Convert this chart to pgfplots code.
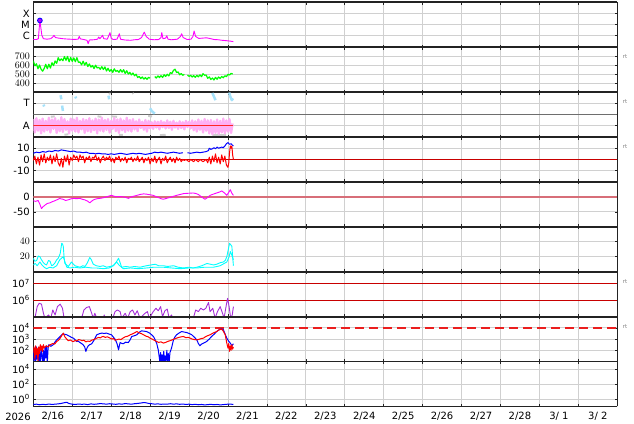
\documentclass[border=0pt]{standalone}
\usepackage{fontspec}
\setmainfont{DejaVu Sans}
\usepackage{pgfplots}
\pgfplotsset{compat=1.18}
\definecolor{magc}{RGB}{255,0,255}
\definecolor{greenc}{RGB}{0,255,0}
\definecolor{pinkc}{RGB}{255,175,245}
\definecolor{lbluec}{RGB}{165,225,250}
\definecolor{lgrayc}{RGB}{205,205,205}
\definecolor{redc}{RGB}{255,0,0}
\definecolor{bluec}{RGB}{0,0,255}
\definecolor{darkredc}{RGB}{200,0,0}
\definecolor{dstc}{RGB}{215,110,120}
\definecolor{cyanc}{RGB}{0,255,255}
\definecolor{purplec}{RGB}{165,45,215}
\definecolor{dashredc}{RGB}{235,30,30}
\definecolor{gridc}{RGB}{208,208,208}
\definecolor{axc}{RGB}{35,35,35}
\definecolor{divc}{RGB}{110,110,110}
\newcommand{\tl}{\fontsize{10bp}{12bp}\selectfont}
\pgfplotsset{panel/.style={
  anchor=north west, width=584bp, height=44.9bp, scale only axis,
  xmin=0, xmax=15, xtick={0,1,...,15}, xticklabels={},
  xmajorgrids, ymajorgrids, grid style={draw=gridc, line width=0.7bp},
  separate axis lines,
  every outer x axis line/.append style={line width=1.8bp, draw=axc},
  every outer y axis line/.append style={line width=0.9bp, draw=axc},
  tick style={draw=axc, line width=0.6bp},
  major tick length=2.5bp, tick align=inside,
  yticklabel style={font=\tl, inner sep=0pt, xshift=-3.3bp},
  xticklabel style={font=\tl},
  unbounded coords=jump,
  every axis plot/.append style={line join=round},
}}
\begin{document}
\begin{tikzpicture}
\useasboundingbox (0,0) rectangle (634bp,-424bp);
% Panel 1: X-ray
\begin{axis}[panel, at={(33.3bp,-2.3bp)}, ymin=-7.08, ymax=-2.98, ytick={-6,-5,-4}, yticklabels={C,M,X}]
\addplot[magc, line width=0.9bp] coordinates {(0,-6.38)(0.08,-6.38)(0.13,-6.30)(0.16,-5.0)(0.17,-4.64)(0.19,-5.2)(0.22,-6.0)(0.26,-6.30)(0.35,-6.35)(0.45,-6.30)(0.50,-6.15)(0.53,-6.0)(0.57,-6.2)(0.65,-6.25)(0.75,-6.30)(0.85,-6.33)(0.95,-6.35)(1.05,-6.37)(1.15,-6.35)(1.18,-6.1)(1.21,-6.32)(1.30,-6.38)(1.38,-6.45)(1.41,-6.76)(1.44,-6.42)(1.55,-6.40)(1.65,-6.35)(1.68,-6.15)(1.71,-6.3)(1.78,-6.0)(1.81,-6.3)(1.90,-6.35)(1.97,-5.75)(2.00,-6.25)(2.05,-6.38)(2.15,-6.35)(2.21,-5.85)(2.24,-6.35)(2.35,-6.42)(2.50,-6.45)(2.60,-6.40)(2.70,-6.38)(2.78,-6.20)(2.85,-5.70)(2.90,-6.1)(2.98,-6.35)(3.10,-6.40)(3.22,-6.38)(3.28,-6.2)(3.30,-5.75)(3.33,-6.3)(3.40,-6.25)(3.43,-6.03)(3.46,-6.35)(3.55,-6.40)(3.70,-6.35)(3.78,-6.1)(3.81,-5.85)(3.85,-6.2)(3.95,-6.38)(4.05,-6.35)(4.10,-6.1)(4.13,-5.60)(4.17,-6.1)(4.25,-6.28)(4.35,-6.25)(4.45,-6.22)(4.55,-6.30)(4.65,-6.38)(4.75,-6.40)(4.85,-6.45)(4.95,-6.48)(5.05,-6.52)(5.14,-6.57)};
\addplot[only marks, mark=*, mark size=2.4bp, mark options={draw=bluec, fill=magc!70!bluec, line width=0.8bp}] coordinates {(0.17,-4.64)};
\end{axis}
% Panel 2: speed
\begin{axis}[panel, at={(33.3bp,-47.2bp)}, ymin=300, ymax=800, ytick={400,500,600,700}]
\addplot[greenc, line width=1.2bp] coordinates {(0,650)(0.04,592)(0.08,615)(0.12,560)(0.16,601)(0.2,555)(0.24,533)(0.28,563)(0.32,610)(0.36,560)(0.4,610)(0.44,567)(0.48,627)(0.52,595)(0.56,647)(0.6,620)(0.64,683)(0.68,650)(0.72,670)(0.76,650)(0.8,696)(0.84,654)(0.88,697)(0.92,637)(0.96,686)(1,642)(1.04,681)(1.08,638)(1.12,683)(1.16,632)(1.2,635)(1.24,603)(1.28,645)(1.32,600)(1.36,631)(1.4,585)(1.44,614)(1.48,578)(1.52,596)(1.56,562)(1.6,600)(1.64,569)(1.68,576)(1.72,554)(1.76,583)(1.8,552)(1.84,580)(1.88,535)(1.92,565)(1.96,531)(2,552)(2.04,519)(2.08,559)(2.12,531)(2.16,541)(2.2,520)(2.24,551)(2.28,522)(2.32,550)(2.36,507)(2.4,538)(2.44,501)(2.48,520)(2.52,491)(2.56,512)(2.6,482)(2.64,499)(2.68,463)(2.72,474)(2.76,451)(2.8,468)(2.84,445)(2.88,462)(2.92,442)(2.96,464)(3,455)(3.06,nan)(3.12,473)(3.16,456)(3.2,480)(3.24,462)(3.28,483)(3.32,463)(3.36,493)(3.4,475)(3.44,498)(3.48,480)(3.52,517)(3.56,507)(3.6,542)(3.64,555)(3.68,518)(3.72,525)(3.76,492)(3.8,507)(3.84,487)(3.88,498)(3.92,nan)(3.96,490)(4,475)(4.04,487)(4.08,468)(4.12,484)(4.16,465)(4.2,486)(4.24,470)(4.28,492)(4.32,472)(4.36,505)(4.4,488)(4.44,490)(4.48,453)(4.52,470)(4.56,440)(4.6,457)(4.64,435)(4.68,464)(4.72,443)(4.76,468)(4.8,452)(4.84,474)(4.88,460)(4.92,482)(4.96,472)(5,498)(5.04,491)(5.08,508)(5.12,501)};
\end{axis}
% Panel 3: T / A
\begin{axis}[panel, at={(33.3bp,-92.1bp)}, ymin=0, ymax=1, ytick={0.25,0.75}, yticklabels={A,T}]
\addplot[divc, line width=0.8bp] coordinates {(0,0.5)(15,0.5)};
\addplot[lgrayc, line width=2bp] coordinates {(0.45,0.45)(0.55,0.46)(0.6,nan)(1.65,0.46)(1.75,0.45)(1.8,nan)(2.0,0.46)(2.15,0.45)(2.2,nan)(2.95,0.47)(3.05,0.46)(3.1,nan)(0.8,0.05)(0.9,0.06)(0.95,nan)(2.2,0.05)(2.3,0.05)(2.35,nan)(3.25,0.04)(3.4,0.05)(3.45,nan)(4.6,0.05)(4.95,0.04)(5.0,nan)(1.95,0.98)(1.97,0.95)(2.0,nan)(2.55,0.98)(2.57,0.96)};
\addplot[pinkc, line width=2.3bp] coordinates {(0.00,0.40)(0.04,0.10)(0.08,0.42)(0.12,0.14)(0.16,0.38)(0.20,0.08)(0.24,0.41)(0.28,0.12)(0.32,0.36)(0.36,0.15)(0.40,0.43)(0.44,0.10)(0.48,0.39)(0.52,0.18)(0.56,0.42)(0.60,0.09)(0.64,0.37)(0.68,0.13)(0.72,0.44)(0.76,0.11)(0.80,0.40)(0.84,0.16)(0.88,0.35)(0.92,0.08)(0.96,0.41)(1.00,0.14)(1.04,0.39)(1.08,0.12)(1.12,0.43)(1.16,0.10)(1.20,0.36)(1.24,0.17)(1.28,0.40)(1.32,0.09)(1.36,0.38)(1.40,0.13)(1.44,0.42)(1.48,0.11)(1.52,0.37)(1.56,0.15)(1.60,0.41)(1.64,0.08)(1.68,0.39)(1.72,0.14)(1.76,0.43)(1.80,0.12)(1.84,0.38)(1.88,0.16)(1.92,0.40)(1.96,0.10)(2.00,0.36)(2.04,0.18)(2.08,0.42)(2.12,0.13)(2.16,0.39)(2.20,0.09)(2.24,0.41)(2.28,0.15)(2.32,0.37)(2.36,0.11)(2.40,0.43)(2.44,0.14)(2.48,0.38)(2.52,0.12)(2.56,0.40)(2.60,0.17)(2.64,0.35)(2.68,0.13)(2.72,0.39)(2.76,0.20)(2.80,0.34)(2.84,0.16)(2.88,0.38)(2.92,0.12)(2.96,0.36)(3.00,0.19)(3.04,0.33)(3.08,0.18)(3.12,0.35)(3.16,0.21)(3.20,0.34)(3.24,0.17)(3.28,0.36)(3.32,0.22)(3.36,0.33)(3.40,0.19)(3.44,0.37)(3.48,0.20)(3.52,0.34)(3.56,0.16)(3.60,0.36)(3.64,0.21)(3.68,0.32)(3.72,0.18)(3.76,0.35)(3.80,0.20)(3.84,0.33)(3.88,0.17)(3.92,0.36)(3.96,0.22)(4.00,0.34)(4.04,0.19)(4.08,0.37)(4.12,0.15)(4.16,0.35)(4.20,0.12)(4.24,0.39)(4.28,0.16)(4.32,0.36)(4.36,0.10)(4.40,0.40)(4.44,0.14)(4.48,0.37)(4.52,0.08)(4.56,0.38)(4.60,0.06)(4.64,0.35)(4.68,0.09)(4.72,0.39)(4.76,0.07)(4.80,0.36)(4.84,0.10)(4.88,0.41)(4.92,0.08)(4.96,0.37)(5.00,0.12)(5.04,0.40)(5.08,0.09)(5.12,0.30)};
\addplot[lbluec, line width=2.5bp] coordinates {(0.26,0.72)(0.28,0.68)(0.30,nan)(0.70,0.93)(0.72,0.84)(0.73,nan)(0.74,0.70)(0.76,0.58)(0.78,nan)(1.08,0.90)(1.10,0.86)(1.12,nan)(1.93,0.92)(1.95,0.84)(1.97,nan)(3.00,0.64)(3.04,0.58)(3.08,0.55)(3.12,0.52)(3.14,nan)(4.60,0.98)(4.64,0.90)(4.68,0.82)(4.70,nan)(5.03,0.99)(5.06,0.90)(5.10,0.82)(5.13,0.86)};
\addplot[red!85!white, line width=0.8bp] coordinates {(0,0.25)(5.14,0.25)};
\end{axis}
% Panel 4: IMF
\begin{axis}[panel, at={(33.3bp,-137.0bp)}, ymin=-20, ymax=20, ytick={-10,0,10}, yticklabels={-10,0,10}]
\addplot[darkredc, line width=0.9bp] coordinates {(0,0)(15,0)};
\addplot[bluec, line width=1bp] coordinates {(0.00,5.5)(0.08,6.5)(0.16,6)(0.24,7)(0.32,6.5)(0.40,7.5)(0.48,7)(0.56,8)(0.64,7.5)(0.72,8.5)(0.80,8)(0.88,7.5)(0.96,7)(1.04,7.5)(1.12,6.5)(1.20,6.5)(1.28,6)(1.36,6.5)(1.44,5.5)(1.52,5.5)(1.60,5)(1.68,5.5)(1.76,5)(1.84,5)(1.92,4.5)(2.00,5)(2.08,4.5)(2.16,5)(2.24,5.5)(2.32,5)(2.40,4.5)(2.48,5)(2.56,5.5)(2.64,5)(2.72,5.5)(2.80,5)(2.88,4.5)(2.96,5)(3.04,5.5)(3.12,6.5)(3.20,6)(3.28,6.5)(3.36,6)(3.44,5.5)(3.52,6)(3.60,6.5)(3.68,6)(3.76,5.5)(3.84,6)(3.90,nan)(3.96,6)(4.04,5.5)(4.12,6)(4.20,6.5)(4.28,6)(4.36,6.5)(4.44,7)(4.50,8)(4.52,10)(4.56,9)(4.60,9.5)(4.64,10.5)(4.68,9.5)(4.72,11)(4.76,10)(4.80,10.5)(4.84,11)(4.88,10.5)(4.92,12)(4.96,14)(5.00,15)(5.04,13.5)(5.08,14)(5.12,12.5)(5.14,12)};
\addplot[redc, line width=1bp] coordinates {(0.00,-1)(0.04,3)(0.08,-4)(0.12,2)(0.16,-5)(0.20,4)(0.24,-2)(0.28,5)(0.32,-3)(0.36,2)(0.40,-1)(0.44,4)(0.48,-4)(0.52,3)(0.56,-2)(0.60,5)(0.64,-3)(0.68,-6)(0.72,1)(0.76,-7)(0.80,3)(0.84,-2)(0.88,4)(0.92,-5)(0.96,2)(1.00,-1)(1.04,4)(1.08,1)(1.12,3)(1.16,-2)(1.20,4)(1.24,1)(1.28,3)(1.32,-3)(1.36,2)(1.40,0)(1.44,3)(1.48,-2)(1.52,2)(1.56,1)(1.60,4)(1.64,-1)(1.68,2)(1.72,-3)(1.76,1)(1.80,3)(1.84,-1)(1.88,2)(1.92,0)(1.96,3)(2.00,-2)(2.04,1)(2.08,-3)(2.12,2)(2.16,0)(2.20,3)(2.24,-2)(2.28,1)(2.32,-1)(2.36,2)(2.40,-3)(2.44,1)(2.48,0)(2.52,2)(2.56,-2)(2.60,1)(2.64,-1)(2.68,3)(2.72,-2)(2.76,0)(2.80,2)(2.84,-3)(2.88,1)(2.92,-1)(2.96,2)(3.00,-4)(3.04,1)(3.08,-2)(3.12,3)(3.16,-3)(3.20,0)(3.24,2)(3.28,-4)(3.32,1)(3.36,-1)(3.40,3)(3.44,-3)(3.48,0)(3.52,2)(3.56,-2)(3.60,1)(3.64,-3)(3.68,2)(3.72,-1)(3.76,1)(3.80,-2)(3.84,0)(3.88,-1)(3.92,0)(3.96,-1)(4.00,-2)(4.04,0)(4.08,-1)(4.12,-2)(4.16,0)(4.20,-1)(4.24,-2)(4.28,0)(4.32,-1)(4.36,-2)(4.40,-1)(4.44,0)(4.48,-3)(4.52,2)(4.56,-4)(4.60,3)(4.64,-2)(4.68,5)(4.72,-3)(4.76,2)(4.80,-4)(4.84,4)(4.88,-2)(4.92,3)(4.96,-5)(5.00,-7)(5.02,-3)(5.04,6)(5.06,12)(5.08,10)(5.10,12)(5.12,4)(5.14,0)};
\end{axis}
% Panel 5: Dst
\begin{axis}[panel, at={(33.3bp,-181.9bp)}, ymin=-100, ymax=50, ytick={-50,0}, yticklabels={-50,0}]
\addplot[dstc, line width=2.2bp] coordinates {(0,0)(15,0)};
\addplot[magc, line width=0.9bp] coordinates {(0,-13)(0.06,-15)(0.124,-12)(0.17,-25)(0.21,-39)(0.25,-33)(0.296,-28)(0.36,-22)(0.424,-20)(0.49,-16)(0.553,-13)(0.62,-9)(0.681,-5)(0.72,-7)(0.767,-8)(0.83,-12)(0.895,-10)(0.96,-7)(1.024,-5)(1.11,-6)(1.195,-5)(1.26,-8)(1.324,-10)(1.39,-14)(1.452,-20)(1.52,-12)(1.58,-8)(1.65,-6)(1.71,-5)(1.8,-3)(1.88,0)(1.95,3)(2.01,5)(2.08,2)(2.14,0)(2.22,1)(2.31,0)(2.38,-2)(2.44,-5)(2.5,-1)(2.57,2)(2.66,5)(2.74,8)(2.83,10)(2.91,9)(3.0,7)(3.08,5)(3.15,1)(3.21,-2)(3.28,-6)(3.34,-8)(3.42,-5)(3.51,-2)(3.6,2)(3.68,5)(3.77,8)(3.86,11)(3.98,12)(4.11,13)(4.18,11)(4.24,8)(4.32,0)(4.41,-8)(4.48,-2)(4.54,5)(4.62,9)(4.71,13)(4.78,16)(4.84,20)(4.9,14)(4.97,5)(5.02,15)(5.06,24)(5.1,12)(5.14,5)};
\end{axis}
% Panel 6: density
\begin{axis}[panel, at={(33.3bp,-226.8bp)}, ymin=0, ymax=60, ytick={20,40}]
\addplot[cyanc, line width=0.9bp] coordinates {(0,9)(0.05,11)(0.1,8)(0.17,13)(0.22,9)(0.28,6)(0.34,4)(0.42,6)(0.51,5)(0.6,8)(0.68,16)(0.77,20)(0.82,12)(0.86,6)(0.95,5)(1.05,6)(1.2,5)(1.35,6)(1.5,5)(1.62,5)(1.8,4)(1.95,5)(2.05,8)(2.14,13)(2.2,9)(2.31,4)(2.5,5)(2.7,4)(2.91,5)(3.1,6)(3.34,6)(3.55,5)(3.77,4)(4.0,5)(4.2,5)(4.4,6)(4.63,6)(4.8,8)(4.97,13)(5.03,20)(5.06,27)(5.1,22)(5.14,16)};
\addplot[cyanc, line width=0.9bp] coordinates {(0,18)(0.04,14)(0.086,15)(0.13,21)(0.17,20)(0.21,16)(0.26,12)(0.30,10)(0.34,9)(0.39,15)(0.43,14)(0.47,8)(0.51,9)(0.56,12)(0.60,16)(0.64,18)(0.69,24)(0.73,38)(0.75,37)(0.77,34)(0.79,20)(0.81,11)(0.86,9)(0.90,7)(0.94,10)(0.98,13)(1.03,10)(1.07,8)(1.13,7)(1.20,6)(1.27,8)(1.33,7)(1.39,12)(1.45,19)(1.49,16)(1.54,10)(1.62,8)(1.71,7)(1.80,8)(1.88,6)(1.97,7)(2.06,8)(2.12,12)(2.19,18)(2.23,12)(2.27,6)(2.38,7)(2.49,6)(2.6,7)(2.74,6)(2.82,7)(2.91,8)(3.02,9)(3.13,10)(3.22,8)(3.34,8)(3.45,7)(3.6,8)(3.72,6)(3.86,5)(4.0,6)(4.1,5)(4.2,6)(4.33,8)(4.46,11)(4.55,10)(4.63,9)(4.71,10)(4.8,12)(4.88,13)(4.93,15)(4.97,20)(5.01,30)(5.04,38)(5.07,36)(5.10,34)(5.12,20)(5.14,8)};
\end{axis}
% Panel 7: electrons (log)
\begin{axis}[panel, at={(33.3bp,-271.7bp)}, ymin=5, ymax=7.7, ytick={6,7}, yticklabels={10\textsuperscript{6},10\textsuperscript{7}}]
\addplot[darkredc, line width=0.9bp] coordinates {(0,6)(15,6)};
\addplot[darkredc, line width=0.9bp] coordinates {(0,7)(15,7)};
\addplot[purplec, line width=0.9bp] coordinates {(0.04,4.9)(0.10,5.6)(0.15,5.8)(0.21,5.75)(0.26,5.2)(0.30,4.9)(0.39,5.1)(0.45,4.9)(0.50,5.4)(0.56,5.1)(0.62,5.6)(0.69,5.75)(0.75,5.5)(0.79,4.9)(1.24,4.9)(1.30,5.4)(1.37,5.55)(1.44,5.6)(1.50,5.2)(1.54,4.9)(1.58,5.2)(1.63,4.9)(1.80,4.9)(1.82,5.1)(1.85,4.9)(2.04,4.9)(2.10,5.3)(2.16,5.4)(2.23,5.3)(2.27,4.9)(2.36,5.2)(2.42,4.9)(2.49,5.3)(2.55,5.4)(2.61,5.1)(2.67,5.35)(2.74,4.9)(2.87,5.2)(2.93,5.3)(2.98,4.9)(3.08,5.3)(3.15,5.5)(3.21,5.35)(3.27,5.6)(3.32,5.0)(3.38,5.35)(3.44,5.45)(3.49,4.9)(3.55,5.1)(3.58,4.9)(4.11,4.9)(4.17,5.4)(4.24,5.3)(4.30,5.5)(4.37,5.4)(4.43,5.5)(4.50,5.85)(4.54,5.3)(4.61,5.5)(4.67,4.9)(4.73,5.3)(4.80,5.6)(4.86,5.2)(4.90,4.9)(4.95,5.6)(4.99,6.1)(5.03,5.6)(5.07,4.9)(5.11,5.1)(5.14,5.6)};
\end{axis}
% Panel 8: protons (log)
\begin{axis}[panel, at={(33.3bp,-316.6bp)}, ymin=1, ymax=5, ytick={2,3,4}, yticklabels={10\textsuperscript{2},10\textsuperscript{3},10\textsuperscript{4}}]
\addplot[draw=dashredc, line width=1.6bp, dash pattern=on 9bp off 5bp] coordinates {(0,4)(15,4)};
\addplot[bluec, line width=1bp] coordinates {(0.00,2.0)(0.02,1.0)(0.04,2.2)(0.06,0.9)(0.08,2.3)(0.10,1.2)(0.12,2.1)(0.14,0.9)(0.16,1.8)(0.18,0.9)(0.20,2.2)(0.22,1.5)(0.24,0.9)(0.26,2.0)(0.28,1.0)(0.30,2.3)(0.32,1.3)(0.34,2.4)(0.36,0.9)(0.38,2.2)(0.40,2.5)(0.45,2.35)(0.51,2.49)(0.55,2.7)(0.60,2.93)(0.64,3.05)(0.69,3.23)(0.73,3.38)(0.77,3.47)(0.81,3.42)(0.86,3.38)(0.90,3.3)(0.94,3.23)(0.98,3.15)(1.03,3.08)(1.07,2.95)(1.11,2.78)(1.15,2.82)(1.20,2.69)(1.24,2.6)(1.28,2.49)(1.32,2.3)(1.35,1.9)(1.38,2.2)(1.41,2.4)(1.45,2.5)(1.50,2.58)(1.56,2.9)(1.63,3.38)(1.70,3.48)(1.76,3.53)(1.82,3.5)(1.88,3.53)(1.94,3.45)(2.01,3.38)(2.05,3.2)(2.10,2.99)(2.15,2.6)(2.19,2.04)(2.21,2.4)(2.23,2.69)(2.27,2.62)(2.31,2.58)(2.37,2.72)(2.44,2.69)(2.49,2.95)(2.53,3.23)(2.60,3.3)(2.66,3.38)(2.72,3.6)(2.78,3.73)(2.85,3.7)(2.91,3.67)(2.98,3.55)(3.04,3.38)(3.09,3.2)(3.13,2.93)(3.17,2.6)(3.21,2.04)(3.25,1.0)(3.27,1.8)(3.29,0.9)(3.31,1.6)(3.33,0.9)(3.35,1.9)(3.37,1.0)(3.39,1.5)(3.41,0.9)(3.43,2.0)(3.45,1.0)(3.47,1.7)(3.49,0.9)(3.51,1.8)(3.55,2.19)(3.60,2.93)(3.64,3.2)(3.68,3.38)(3.75,3.55)(3.81,3.67)(3.88,3.62)(3.94,3.58)(4.00,3.5)(4.07,3.38)(4.14,3.15)(4.20,2.93)(4.24,2.6)(4.28,2.40)(4.32,2.55)(4.37,2.64)(4.41,2.7)(4.45,2.78)(4.52,3.0)(4.58,3.23)(4.65,3.45)(4.71,3.67)(4.76,3.8)(4.80,3.88)(4.84,3.9)(4.88,3.85)(4.92,3.5)(4.97,3.08)(5.02,2.8)(5.06,2.64)(5.10,2.40)(5.14,2.58)};
\addplot[redc, line width=1bp] coordinates {(0.00,1.8)(0.02,2.3)(0.04,1.2)(0.06,2.4)(0.08,1.6)(0.10,2.2)(0.12,1.0)(0.14,2.3)(0.16,1.7)(0.18,2.5)(0.20,2.0)(0.22,2.4)(0.24,1.9)(0.26,2.5)(0.28,2.2)(0.33,2.4)(0.38,2.3)(0.43,2.49)(0.5,2.6)(0.55,2.55)(0.60,2.78)(0.65,2.9)(0.69,3.08)(0.73,3.3)(0.77,3.53)(0.81,3.2)(0.86,2.99)(0.9,2.85)(0.95,2.92)(1.0,2.8)(1.03,2.78)(1.08,2.88)(1.12,2.82)(1.16,2.95)(1.20,2.93)(1.25,2.85)(1.3,2.9)(1.35,2.75)(1.4,2.82)(1.45,2.78)(1.5,2.9)(1.55,2.95)(1.6,3.02)(1.63,3.08)(1.68,3.15)(1.72,3.1)(1.76,3.2)(1.80,3.23)(1.85,3.15)(1.9,3.2)(1.97,3.08)(2.02,3.0)(2.06,3.05)(2.1,2.9)(2.14,2.93)(2.2,3.0)(2.25,2.95)(2.31,3.1)(2.36,3.2)(2.42,3.25)(2.49,3.38)(2.54,3.45)(2.6,3.55)(2.66,3.67)(2.72,3.55)(2.78,3.48)(2.83,3.38)(2.9,3.25)(2.95,3.2)(3.00,3.08)(3.05,3.0)(3.1,2.9)(3.17,2.78)(3.22,2.7)(3.28,2.75)(3.34,2.64)(3.4,2.7)(3.46,2.8)(3.51,2.85)(3.56,2.92)(3.62,3.0)(3.68,3.08)(3.74,3.15)(3.8,3.2)(3.86,3.23)(3.92,3.12)(3.98,3.15)(4.03,3.08)(4.08,3.0)(4.14,2.95)(4.20,2.93)(4.26,2.98)(4.32,3.05)(4.37,3.08)(4.42,3.2)(4.48,3.3)(4.54,3.38)(4.6,3.5)(4.66,3.6)(4.71,3.67)(4.76,3.8)(4.8,3.85)(4.84,3.88)(4.88,3.7)(4.93,3.38)(4.97,2.64)(5.00,2.2)(5.02,2.6)(5.04,1.9)(5.06,2.4)(5.08,2.0)(5.10,2.5)(5.12,2.1)(5.14,2.3)};
\end{axis}
% Panel 9 (log)
\begin{axis}[panel, at={(33.3bp,-361.5bp)}, ymin=-1, ymax=5, ytick={0,2,4}, yticklabels={10\textsuperscript{0},10\textsuperscript{2},10\textsuperscript{4}},
  extra x ticks={0.5,1.5,...,14.5},
  extra x tick labels={2/16,2/17,2/18,2/19,2/20,2/21,2/22,2/23,2/24,2/25,2/26,2/27,2/28,3/ 1,3/ 2},
  extra x tick style={grid=none, major tick length=0pt, xticklabel style={font=\tl, yshift=-2bp}}]
\addplot[bluec, line width=1bp] coordinates {(0,-0.75)(0.08,-0.7)(0.16,-0.78)(0.24,-0.72)(0.32,-0.76)(0.4,-0.68)(0.48,-0.74)(0.56,-0.7)(0.64,-0.66)(0.72,-0.6)(0.8,-0.5)(0.86,-0.45)(0.92,-0.62)(1.0,-0.7)(1.08,-0.74)(1.16,-0.68)(1.24,-0.72)(1.32,-0.7)(1.4,-0.76)(1.48,-0.66)(1.56,-0.72)(1.64,-0.68)(1.72,-0.62)(1.8,-0.66)(1.88,-0.7)(1.96,-0.64)(2.04,-0.68)(2.12,-0.72)(2.2,-0.66)(2.28,-0.7)(2.36,-0.62)(2.44,-0.66)(2.52,-0.7)(2.6,-0.64)(2.68,-0.6)(2.76,-0.55)(2.84,-0.48)(2.9,-0.52)(2.96,-0.6)(3.04,-0.64)(3.12,-0.7)(3.2,-0.66)(3.28,-0.72)(3.36,-0.68)(3.44,-0.7)(3.52,-0.64)(3.6,-0.7)(3.68,-0.66)(3.76,-0.72)(3.84,-0.68)(3.92,-0.74)(4.0,-0.7)(4.08,-0.76)(4.16,-0.72)(4.24,-0.78)(4.32,-0.74)(4.4,-0.8)(4.48,-0.76)(4.56,-0.72)(4.64,-0.78)(4.72,-0.74)(4.8,-0.8)(4.88,-0.76)(4.96,-0.72)(5.04,-0.68)(5.14,-0.74)};
\end{axis}
\node[font=\tl] at (18bp,-416.5bp) {2026};
\foreach \yy in {56.7,101.5,146.5,281.7,326.7}{
  \node[font=\fontsize{5.5bp}{6bp}\selectfont, text=gray] at (625bp,-\yy bp) {rt};
}
\end{tikzpicture}
\end{document}
